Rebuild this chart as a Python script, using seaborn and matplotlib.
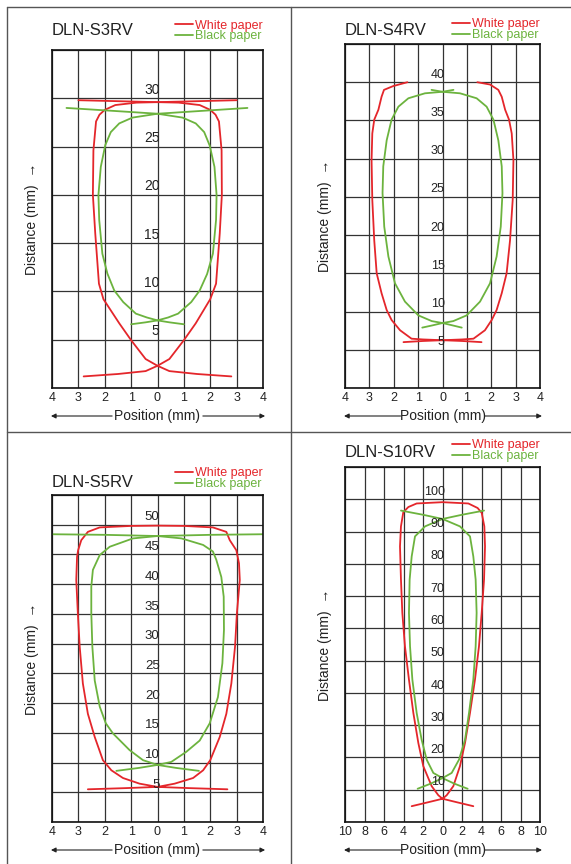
import numpy as np
import pandas as pd
import matplotlib.pyplot as plt
import matplotlib.transforms as mtransforms
from matplotlib.lines import Line2D
import seaborn as sns

# --- Data: detection areas ---
# x = position (mm), y = distance (mm). Each curve is drawn as one or two branches
# which cross each other near the ends of the spot.
papers = ['White paper', 'Black paper']
colors = {'White paper': '#e4262b', 'Black paper': '#6cb33e'}

# DLN-S3RV
s3_white_1 = [(-2.8, 1.2), (-1.5, 1.45), (-0.45, 1.75), (0.0, 2.3), (0.45, 3.0), (1.0, 4.95),
              (1.45, 6.7), (2.0, 9.2), (2.22, 10.8), (2.36, 16.0), (2.44, 20.0), (2.43, 24.6),
              (2.33, 27.6), (2.2, 28.3), (2.0, 28.8), (1.6, 29.3), (0.8, 29.55), (0.0, 29.6),
              (-1.5, 29.7), (-3.0, 29.8)]
s3_white_2 = [(2.8, 1.2), (1.5, 1.45), (0.45, 1.75), (0.0, 2.3), (-0.45, 3.0), (-1.0, 4.95),
              (-1.45, 6.7), (-2.05, 9.2), (-2.22, 10.8), (-2.36, 16.0), (-2.45, 20.0), (-2.43, 24.6),
              (-2.33, 27.6), (-2.2, 28.3), (-2.0, 28.8), (-1.6, 29.3), (-0.8, 29.55), (0.0, 29.6),
              (1.5, 29.7), (3.0, 29.8)]
s3_black_1 = [(-1.0, 6.6), (-0.45, 6.8), (0.0, 7.0), (0.4, 7.3), (0.78, 7.7), (1.28, 8.9),
              (1.6, 10.1), (1.88, 11.8), (2.1, 13.9), (2.22, 17.4), (2.24, 20.0), (2.16, 22.9),
              (1.98, 25.1), (1.77, 26.5), (1.45, 27.4), (0.95, 28.0), (0.0, 28.4), (-1.7, 28.7),
              (-3.45, 29.0)]
s3_black_2 = [(1.0, 6.6), (0.45, 6.8), (0.0, 7.0), (-0.4, 7.3), (-0.82, 7.7), (-1.3, 8.9),
              (-1.64, 10.1), (-1.9, 11.85), (-2.09, 13.9), (-2.21, 17.4), (-2.24, 20.0), (-2.15, 22.9),
              (-1.98, 25.15), (-1.77, 26.5), (-1.45, 27.4), (-0.95, 28.0), (0.0, 28.4), (1.7, 28.7),
              (3.41, 29.0)]

# DLN-S4RV
s4_white_1 = [(-1.6, 6.0), (-0.8, 6.15), (0.0, 6.25), (0.8, 6.35), (1.27, 6.45), (1.74, 7.55),
              (2.02, 8.9), (2.22, 10.2), (2.43, 12.4), (2.63, 15.0), (2.77, 19.3), (2.88, 24.6),
              (2.91, 29.8), (2.84, 33.3), (2.73, 35.1), (2.57, 36.4), (2.43, 38.1), (2.29, 39.0),
              (1.95, 39.7), (1.43, 40.0)]
s4_white_2 = [(1.6, 6.0), (0.8, 6.15), (0.0, 6.25), (-0.8, 6.35), (-1.27, 6.45), (-1.74, 7.55),
              (-2.09, 8.9), (-2.29, 10.2), (-2.5, 12.4), (-2.7, 15.0), (-2.8, 19.3), (-2.88, 24.6),
              (-2.91, 29.8), (-2.88, 33.3), (-2.8, 35.1), (-2.63, 36.4), (-2.5, 38.1), (-2.4, 39.0),
              (-2.02, 39.5), (-1.44, 40.0)]
s4_black_1 = [(-0.83, 7.9), (-0.4, 8.2), (0.0, 8.5), (0.44, 8.75), (0.99, 9.5), (1.54, 11.3),
              (1.95, 13.7), (2.22, 17.2), (2.39, 21.1), (2.46, 25.5), (2.43, 29.0), (2.29, 32.4),
              (2.09, 35.1), (1.81, 36.8), (1.4, 37.9), (0.72, 38.55), (0.0, 38.75), (-0.45, 39.0)]
s4_black_2 = [(0.79, 7.9), (0.4, 8.2), (0.0, 8.5), (-0.44, 8.75), (-0.99, 9.5), (-1.54, 11.3),
              (-1.95, 13.7), (-2.22, 17.2), (-2.39, 21.1), (-2.46, 25.5), (-2.43, 29.0), (-2.29, 32.4),
              (-2.09, 35.1), (-1.81, 36.8), (-1.4, 37.9), (-0.72, 38.55), (0.0, 38.75), (0.45, 39.0)]

# DLN-S5RV
s5_white = [(-2.64, 5.5), (-1.2, 5.7), (0.0, 5.9), (0.65, 6.45), (1.35, 7.4), (1.73, 8.7),
            (2.0, 10.4), (2.36, 14.3), (2.61, 18.2), (2.8, 23.3), (2.94, 29.5), (3.01, 35.1),
            (3.12, 40.7), (3.09, 43.5), (2.99, 45.7), (2.74, 47.4), (2.61, 48.8), (2.1, 49.55),
            (1.0, 49.8), (0.0, 49.85), (-1.0, 49.8), (-2.19, 49.55), (-2.64, 48.8), (-2.89, 47.4),
            (-3.01, 45.7), (-3.05, 44.6), (-3.08, 40.7), (-3.02, 35.1), (-2.95, 29.5), (-2.83, 23.3),
            (-2.64, 18.2), (-2.38, 14.3), (-2.07, 10.4), (-1.75, 8.7), (-1.31, 7.4), (-0.68, 6.45),
            (0.0, 5.9), (1.2, 5.7), (2.65, 5.5)]
s5_black_1 = [(-1.56, 8.6), (-0.7, 9.1), (0.0, 9.6), (0.52, 10.1), (1.09, 11.8), (1.6, 13.7),
              (1.98, 16.6), (2.29, 21.0), (2.46, 26.7), (2.52, 32.3), (2.51, 37.9), (2.42, 41.2),
              (2.23, 44.1), (2.1, 45.5), (1.73, 46.6), (0.91, 47.7), (0.0, 48.1), (-2.0, 48.3),
              (-4.0, 48.4)]
s5_black_2 = [(1.57, 8.6), (0.7, 9.1), (0.0, 9.6), (-0.55, 10.4), (-1.06, 12.1), (-1.69, 14.9),
              (-1.96, 16.6), (-2.19, 19.4), (-2.38, 23.8), (-2.47, 29.5), (-2.51, 35.1), (-2.51, 39.6),
              (-2.45, 42.4), (-2.19, 44.9), (-1.81, 46.3), (-0.93, 47.7), (0.0, 48.1), (2.0, 48.3),
              (4.0, 48.4)]

# DLN-S10RV
s10_white = [(-3.16, 4.9), (-1.5, 6.1), (0.0, 7.2), (0.43, 8.3), (1.11, 11.1), (1.79, 17.3),
             (2.31, 24.5), (2.82, 33.8), (3.33, 44.1), (3.74, 54.4), (4.02, 64.8), (4.26, 75.1),
             (4.36, 85.4), (4.29, 91.6), (4.02, 95.8), (3.6, 97.3), (2.65, 98.7), (0.0, 99.1),
             (-2.65, 98.7), (-3.5, 97.6), (-4.02, 96.0), (-4.26, 91.6), (-4.36, 85.4), (-4.26, 75.1),
             (-4.12, 64.8), (-3.85, 54.4), (-3.44, 44.1), (-2.99, 33.8), (-2.48, 24.5), (-1.97, 17.3),
             (-1.11, 11.1), (-0.43, 8.3), (0.0, 7.2), (1.5, 6.1), (3.16, 4.9)]
s10_black_1 = [(-4.26, 96.5), (-2.0, 95.2), (0.0, 93.9), (1.79, 91.6), (2.82, 88.5), (3.16, 82.3),
               (3.4, 75.1), (3.5, 64.8), (3.4, 54.4), (3.16, 44.1), (2.72, 33.8), (2.31, 25.5),
               (1.69, 19.3), (0.94, 15.2), (0.0, 13.6), (-1.2, 11.9), (-2.55, 10.3)]
s10_black_2 = [(4.26, 96.5), (2.0, 95.2), (0.0, 93.9), (-1.79, 91.6), (-2.82, 88.5), (-3.16, 82.3),
               (-3.37, 75.1), (-3.44, 64.8), (-3.33, 54.4), (-3.09, 44.1), (-2.65, 33.8), (-2.14, 25.5),
               (-1.62, 19.3), (-0.94, 15.2), (0.0, 13.6), (1.2, 11.9), (2.58, 10.3)]

# --- Panel layout (pixel boxes on a 571x864 sheet) ---
W, H = 571, 864
panels = [
    dict(title='DLN-S3RV', box=(52, 50, 263, 388), xmax=4, xstep=1, ymax=35, ystep=5,
         head=15, legy=8, lab=10,
         curves=[('White paper', s3_white_1), ('White paper', s3_white_2),
                 ('Black paper', s3_black_1), ('Black paper', s3_black_2)]),
    dict(title='DLN-S4RV', box=(345, 44, 540, 388), xmax=4, xstep=1, ymax=45, ystep=5,
         head=9, legy=3, lab=9,
         curves=[('White paper', s4_white_1), ('White paper', s4_white_2),
                 ('Black paper', s4_black_1), ('Black paper', s4_black_2)]),
    dict(title='DLN-S5RV', box=(52, 495, 263, 822), xmax=4, xstep=1, ymax=55, ystep=5,
         head=8, legy=5, lab=9.5,
         curves=[('White paper', s5_white), ('Black paper', s5_black_1), ('Black paper', s5_black_2)]),
    dict(title='DLN-S10RV', box=(345, 467, 540, 822), xmax=10, xstep=2, ymax=110, ystep=10,
         head=10, legy=5, lab=9,
         curves=[('White paper', s10_white), ('Black paper', s10_black_1), ('Black paper', s10_black_2)]),
]

rows = []
for p in panels:
    for k, (paper, pts) in enumerate(p['curves']):
        for x, y in pts:
            rows.append({'model': p['title'], 'paper': paper, 'branch': k, 'x': x, 'y': y})
df = pd.DataFrame(rows)

sns.set_theme(style='white')
plt.rcParams['font.family'] = ['Liberation Sans', 'DejaVu Sans']

fig = plt.figure(figsize=(W / 100, H / 100), dpi=100)

# sheet frame lines
frame = '#555555'
for xs, ys in [((7, 7), (7, H)), ((7, W), (7, 7)), ((291, 291), (7, H)), ((7, W), (432, 432))]:
    fig.add_artist(Line2D([x / W for x in xs], [1 - y / H for y in ys], color=frame, lw=1.0))

for p in panels:
    l, t, r, b = p['box']
    wpx, hpx = r - l, b - t
    ax = fig.add_axes([l / W, 1 - b / H, wpx / W, hpx / H])

    sub = df[df['model'] == p['title']]
    sns.lineplot(data=sub, x='x', y='y', hue='paper', hue_order=papers, palette=colors,
                 units='branch', estimator=None, sort=False, lw=1.3, ax=ax)

    xmax, ymax = p['xmax'], p['ymax']
    ax.set_xlim(-xmax, xmax)
    ax.set_ylim(0, ymax)
    xt = np.arange(-xmax, xmax + 1, p['xstep'])
    ax.set_xticks(xt)
    ax.set_xticklabels([str(abs(v)) for v in xt], fontsize=9, color='#222222')
    ax.set_yticks(np.arange(0, ymax + 1, p['ystep']))
    ax.tick_params(length=0, labelleft=False, pad=3)
    ax.grid(True, color='#333333', lw=0.9)
    ax.set_axisbelow(True)
    for s in ax.spines.values():
        s.set_color('#111111')
        s.set_linewidth(1.2)

    # distance values written inside the grid, next to the centre line
    for v in range(p['ystep'], ymax, p['ystep']):
        ax.annotate(str(v), (0, v), xytext=(1.5, 1), textcoords='offset points',
                    ha='right', va='bottom', fontsize=p['lab'], color='#222222')

    # axis labels with arrows
    ax.set_xlabel('Position (mm)', fontsize=10, color='#222222')
    ax.xaxis.set_label_coords(0.5, -28 / hpx)
    ax.xaxis.label.set_va('center')
    ax.set_ylabel('Distance (mm)  \u2192', fontsize=10, color='#222222')
    ax.yaxis.set_label_coords(-20 / wpx, 0.5)
    ax.yaxis.label.set_va('center')
    tr = mtransforms.offset_copy(ax.transAxes, fig=fig, y=-28, units='dots')
    for x0, x1 in [(0.285, -0.005), (0.715, 1.01)]:
        ax.annotate('', xy=(x1, 0), xytext=(x0, 0), xycoords=tr, textcoords=tr,
                    arrowprops=dict(arrowstyle='-|>', color='#222222', lw=0.8,
                                    mutation_scale=7, shrinkA=0, shrinkB=0))

    # model name and legend above the grid
    ax.annotate(p['title'], (0, 1), xycoords='axes fraction', xytext=(0, p['head'] * 0.72),
                textcoords='offset points', ha='left', va='baseline', fontsize=12, color='#222222')
    leg = ax.get_legend()
    handles = leg.legend_handles
    labels = [txt.get_text() for txt in leg.get_texts()]
    ax.legend(handles, labels, loc='lower right', bbox_to_anchor=(1.0, 1 + p['legy'] / hpx),
              frameon=False, fontsize=9, handlelength=1.4, handletextpad=0.2,
              labelspacing=-0.12, borderpad=0, borderaxespad=0, labelcolor='linecolor')

fig.savefig('out.png', dpi=100)
